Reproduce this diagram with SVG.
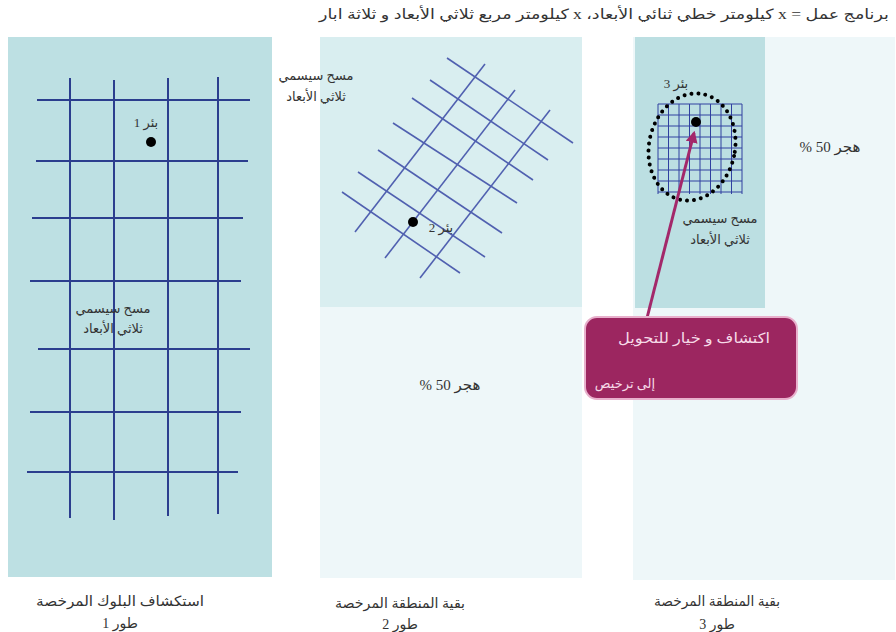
<svg xmlns="http://www.w3.org/2000/svg" width="896" height="632" viewBox="0 0 896 632">
<defs>
<style>
.t{font-family:"Liberation Serif","DejaVu Sans",serif;fill:#333;direction:rtl}
.s{font-size:13px}
.b{font-size:14px}
.m{font-size:15px}
.g1 line{stroke:#2b3e8e;stroke-width:2}
.g2 line{stroke:#5060b0;stroke-width:1.6}
.g3 line{stroke:#3040a0;stroke-width:1}
.well{fill:#000}
</style>
<marker id="ah" viewBox="0 0 10 10" refX="8" refY="5" markerWidth="4" markerHeight="4" orient="auto">
<path d="M0,0 L10,5 L0,10 z" fill="#a3286a"/>
</marker>
</defs>
<rect width="896" height="632" fill="#ffffff"/>

<text class="t" x="604" y="19" text-anchor="middle" font-size="14" textLength="570" lengthAdjust="spacingAndGlyphs">برنامج عمل = x كيلومتر خطي ثنائي الأبعاد، x كيلومتر مربع ثلاثي الأبعاد و ثلاثة ابار</text>

<g id="phase1">
<rect x="8" y="37" width="264" height="540" fill="#bde0e3"/>
<g class="g1">
<line x1="70" y1="78" x2="70" y2="518"/>
<line x1="114" y1="80" x2="114" y2="520"/>
<line x1="168" y1="78" x2="168" y2="516"/>
<line x1="218" y1="77" x2="218" y2="514"/>
<line x1="37" y1="100" x2="250" y2="100"/>
<line x1="36" y1="161" x2="248" y2="161"/>
<line x1="32" y1="218" x2="243" y2="218"/>
<line x1="30" y1="281" x2="241" y2="281"/>
<line x1="38" y1="349" x2="250" y2="349"/>
<line x1="30" y1="412" x2="241" y2="412"/>
<line x1="27" y1="472" x2="238" y2="472"/>
</g>
<circle class="well" cx="151" cy="142" r="5"/>
<text class="t s" x="146" y="127" text-anchor="middle">بئر 1</text>
<text class="t s" x="113" y="313" text-anchor="middle">مسح سيسمي</text>
<text class="t s" x="113" y="333" text-anchor="middle">ثلاثي الأبعاد</text>
<text class="t b" x="120" y="606" text-anchor="middle" textLength="168" lengthAdjust="spacingAndGlyphs">استكشاف البلوك المرخصة</text>
<text class="t b" x="120" y="628" text-anchor="middle">طور 1</text>
</g>

<g id="phase2">
<rect x="320" y="37" width="262" height="270" fill="#d9eef0"/>
<rect x="320" y="307" width="262" height="271" fill="#eef7f9"/>
<g class="g2">
<line x1="355" y1="232" x2="485" y2="64"/>
<line x1="385" y1="258" x2="515" y2="90"/>
<line x1="420" y1="278" x2="550" y2="110"/>
<line x1="447" y1="58" x2="573" y2="143"/>
<line x1="430" y1="80" x2="548" y2="160"/>
<line x1="412" y1="98" x2="533" y2="180"/>
<line x1="393" y1="123" x2="517" y2="203"/>
<line x1="378" y1="150" x2="502" y2="233"/>
<line x1="358" y1="172" x2="485" y2="257"/>
<line x1="342" y1="192" x2="460" y2="273"/>
</g>
<circle class="well" cx="413" cy="222" r="5"/>
<text class="t s" x="441" y="232" text-anchor="middle">بئر 2</text>
<text class="t s" x="316" y="80" text-anchor="middle">مسح سيسمي</text>
<text class="t s" x="316" y="101" text-anchor="middle">ثلاثي الأبعاد</text>
<text class="t m" x="450" y="390" text-anchor="middle">هجر 50 %</text>
<text class="t b" x="400" y="608" text-anchor="middle" textLength="130" lengthAdjust="spacingAndGlyphs">بقية المنطقة المرخصة</text>
<text class="t b" x="400" y="629" text-anchor="middle">طور 2</text>
</g>

<g id="phase3">
<rect x="633" y="37" width="262" height="543" fill="#eef7f9"/>
<rect x="635" y="37" width="130" height="271" fill="#bcdfe2"/>
<g class="g3">
<line x1="658" y1="104" x2="658" y2="194"/>
<line x1="668.5" y1="104" x2="668.5" y2="194"/>
<line x1="679" y1="104" x2="679" y2="194"/>
<line x1="689.5" y1="104" x2="689.5" y2="194"/>
<line x1="700" y1="104" x2="700" y2="194"/>
<line x1="710.5" y1="104" x2="710.5" y2="194"/>
<line x1="721" y1="104" x2="721" y2="194"/>
<line x1="731.5" y1="104" x2="731.5" y2="194"/>
<line x1="742" y1="104" x2="742" y2="194"/>
<line x1="658" y1="104" x2="742" y2="104"/>
<line x1="658" y1="115" x2="742" y2="115"/>
<line x1="658" y1="126" x2="742" y2="126"/>
<line x1="658" y1="137" x2="742" y2="137"/>
<line x1="658" y1="148" x2="742" y2="148"/>
<line x1="658" y1="159" x2="742" y2="159"/>
<line x1="658" y1="170" x2="742" y2="170"/>
<line x1="658" y1="181" x2="742" y2="181"/>
<line x1="658" y1="192" x2="742" y2="192"/>
</g>
<ellipse cx="692" cy="147" rx="43" ry="54" transform="rotate(12 692 147)" fill="none" stroke="#000" stroke-width="4" stroke-linecap="round" stroke-dasharray="0 7"/>
<circle class="well" cx="696" cy="122" r="5"/>
<text class="t s" x="676" y="88" text-anchor="middle">بئر 3</text>
<text class="t s" x="720" y="223" text-anchor="middle">مسح سيسمي</text>
<text class="t s" x="720" y="244" text-anchor="middle">ثلاثي الأبعاد</text>
<text class="t m" x="830" y="152" text-anchor="middle">هجر 50 %</text>
<text class="t b" x="717" y="606" text-anchor="middle" textLength="126" lengthAdjust="spacingAndGlyphs">بقية المنطقة المرخصة</text>
<text class="t b" x="717" y="629" text-anchor="middle">طور 3</text>
</g>

<g id="connectors">
<line x1="647" y1="318" x2="694" y2="133" stroke="#a3286a" stroke-width="3" marker-end="url(#ah)"/>
</g>

<g id="callout">
<rect x="585" y="317" width="212" height="82" rx="12" fill="#9c2660" stroke="#e8b0cc" stroke-width="2"/>
<text class="t b" x="694" y="343" text-anchor="middle" textLength="152" lengthAdjust="spacingAndGlyphs" style="fill:#f6dbe8">اكتشاف و خيار للتحويل</text>
<text class="t s" x="625" y="388" text-anchor="middle" style="fill:#f6dbe8">إلى ترخيص</text>
</g>
</svg>
